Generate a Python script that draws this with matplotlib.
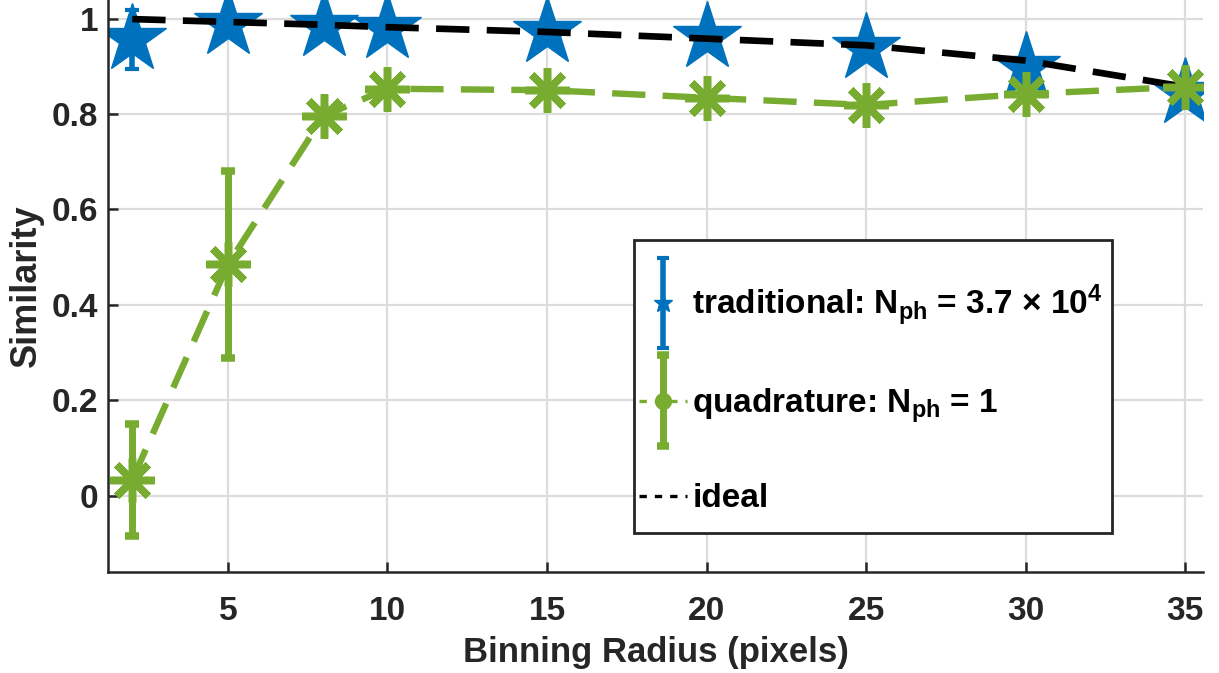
import matplotlib
matplotlib.use('Agg')
import matplotlib.pyplot as plt
from matplotlib.lines import Line2D
from matplotlib.patches import Rectangle
from matplotlib.container import ErrorbarContainer
from matplotlib.legend_handler import HandlerErrorbar, HandlerLine2D
from matplotlib.ticker import FormatStrFormatter

plt.rcParams['font.family'] = ['Liberation Sans', 'DejaVu Sans']
plt.rcParams['font.weight'] = 'bold'
plt.rcParams['mathtext.fontset'] = 'custom'
plt.rcParams['mathtext.rm'] = 'Liberation Sans:bold'
plt.rcParams['mathtext.bf'] = 'Liberation Sans:bold'
plt.rcParams['mathtext.default'] = 'bf'

# binning radius sweep
radius = [2, 5, 8, 10, 15, 20, 25, 30, 35]

trad_sim = [0.957, 0.988, 0.984, 0.980, 0.972, 0.962, 0.938, 0.898, 0.845]
trad_err = [0.062, 0.005, 0.004, 0.004, 0.004, 0.004, 0.005, 0.006, 0.006]

quad_sim = [0.033, 0.485, 0.796, 0.853, 0.850, 0.834, 0.819, 0.842, 0.857]
quad_err = [0.117, 0.196, 0.012, 0.008, 0.006, 0.006, 0.006, 0.006, 0.006]

ideal_sim = [0.999, 0.993, 0.987, 0.982, 0.972, 0.958, 0.944, 0.912, 0.857]

BLUE = '#0072BD'
GREEN = '#77AC30'
AX_COL = '#262626'
ASTER = (8, 2, 0)

W, H = 1219, 673
fig = plt.figure(figsize=(W / 100, H / 100), dpi=100)
ax = fig.add_axes([108 / W, 1 - 572 / H, (1203 - 108) / W, 572 / H])

trad = ax.errorbar(radius, trad_sim, yerr=trad_err, ls='none', marker='*',
                   ms=52, color=BLUE, elinewidth=4, capsize=5, capthick=3,
                   label=r'traditional: N$_{ph}$ = 3.7 $\times$ 10$^{4}$', zorder=2.1)
quad = ax.errorbar(radius, quad_sim, yerr=quad_err, ls='--', dashes=[5.2, 2.7],
                   lw=4.6, marker=ASTER, ms=32, mew=5.4, color=GREEN,
                   elinewidth=5, capsize=5, capthick=3,
                   label=r'quadrature: N$_{ph}$ = 1', zorder=2.2)
ideal, = ax.plot(radius, ideal_sim, ls='--', dashes=[5.0, 2.6], lw=4.8,
                 color='black', label='ideal', zorder=2.3)

ax.set_xlim(1.24, 35.56)
ax.set_ylim(-0.16, 1.039)
ax.set_xticks([5, 10, 15, 20, 25, 30, 35])
ax.set_yticks([0, 0.2, 0.4, 0.6, 0.8, 1.0])
ax.yaxis.set_major_formatter(FormatStrFormatter('%g'))
ax.grid(True, color='#dcdcdc', lw=1.6, zorder=0)
ax.set_axisbelow(True)
for s in ('top', 'right'):
    ax.spines[s].set_visible(False)
for s in ('left', 'bottom'):
    ax.spines[s].set_color(AX_COL)
    ax.spines[s].set_linewidth(1.8)
ax.tick_params(direction='in', length=7, width=1.8, colors=AX_COL,
               labelsize=24, pad=17)
ax.tick_params(axis='y', pad=7)

ax.set_xlabel('Binning Radius (pixels)', fontsize=25, fontweight='bold',
              color=AX_COL, labelpad=7)
ax.set_ylabel('Similarity', fontsize=26, fontweight='bold', color=AX_COL,
              labelpad=6)


def small_handle(h, orig):
    h.update_from(orig)
    if isinstance(h, Line2D):
        m = orig.get_marker()
        if m == '*':
            h.set_markersize(14)
        elif m == ASTER:
            h.set_marker('o')
            h.set_markersize(7)
        if orig.get_linestyle() == '--':
            h.set_linewidth(2.4)
            h.set_dashes([2.2, 2.4])
        if h.get_marker() == '_':
            h.set_markersize(8)


# legend box drawn separately so the inner padding can differ from the side padding
box = Rectangle((634 / W, 1 - 533 / H), (1112 - 634) / W, (533 - 240) / H,
                transform=fig.transFigure, facecolor='white', edgecolor=AX_COL,
                lw=2.0, clip_on=False, zorder=4.9)
ax.add_patch(box)

leg = ax.legend(
    [trad, quad, ideal],
    [trad.get_label(), quad.get_label(), ideal.get_label()],
    handler_map={ErrorbarContainer: HandlerErrorbar(update_func=small_handle,
                                                    xerr_size=0.5, yerr_size=1.36),
                 Line2D: HandlerLine2D(update_func=small_handle)},
    loc='upper left', bbox_to_anchor=(634 / W, 1 - 278 / H),
    bbox_transform=fig.transFigure, borderaxespad=0, fontsize=24,
    handlelength=1.45, handleheight=0.7, handletextpad=0.15,
    labelspacing=1.75, borderpad=0.15, frameon=False)
for t in leg.get_texts():
    t.set_color('black')

fig.savefig('out.png', dpi=100)
